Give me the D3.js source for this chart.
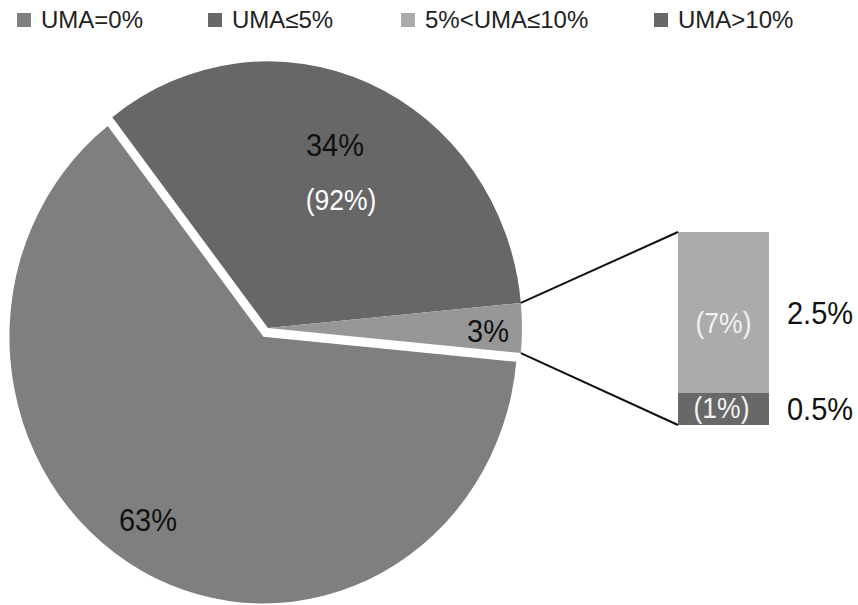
<!DOCTYPE html>
<html>
<head>
<meta charset="utf-8">
<script src="https://cdn.jsdelivr.net/npm/d3@7/dist/d3.min.js"></script>
<style>
  html, body { margin: 0; padding: 0; background: #fff; }
  svg { display: block; }
  text { font-family: "Liberation Sans", Arial, sans-serif; }
</style>
</head>
<body>
<svg id="chart" width="858" height="605"></svg>
<script>
// Legend categories and their fills
const categories = ["UMA=0%", "UMA≤5%", "5%<UMA≤10%", "UMA>10%"];
const categoryColors = ["#7f7f7f", "#676767", "#ababab", "#686868"];

// Main pie: share of all cases (%), drawn clockwise from the top-left
const pieKeys = ["UMA≤5%", "other", "UMA=0%"];
const pieValues = [34, 3, 63];
const pieLabels = ["34%", "3%", "63%"];
const pieColors = ["#676767", "#979797", "#7f7f7f"];

// Share among cases with UMA > 0
const subShareLabels = ["(92%)", "(7%)", "(1%)"];

// Breakdown of the small slice into a stacked bar
const barKeys = ["5%<UMA≤10%", "UMA>10%"];
const barValues = [2.5, 0.5];
const barLabels = ["2.5%", "0.5%"];
const barColors = ["#ababab", "#686868"];

const svg = d3.select("#chart");

// ---- Legend ----
const legendX = [17, 208, 401, 654];
const legend = svg.append("g");
categories.forEach((c, i) => {
  legend.append("rect")
    .attr("x", legendX[i]).attr("y", 13)
    .attr("width", 14).attr("height", 14)
    .attr("fill", categoryColors[i]);
  legend.append("text")
    .attr("x", legendX[i] + 24).attr("y", 28)
    .attr("font-size", 24).attr("fill", "#222")
    .text(c);
});

// ---- Pie ----
const cx = 268, cy = 328, r = 254, yStretch = 1.05, explode = 9.5;
const total = d3.sum(pieValues);
// keep the small slice centred on the horizontal axis (pointing right)
const start = Math.PI / 2 - 2 * Math.PI * (pieValues[0] + pieValues[1] / 2) / total;
const pie = d3.pie().sort(null).value(d => d)
  .startAngle(start).endAngle(start + 2 * Math.PI);
const arcs = pie(pieValues);
const arc = d3.arc().innerRadius(0).outerRadius(r);

const pieG = svg.append("g")
  .attr("transform", `translate(${cx},${cy}) scale(1,${yStretch})`);

pieG.selectAll("path").data(arcs).join("path")
  .attr("d", arc)
  .attr("fill", (d, i) => pieColors[i])
  .attr("transform", (d, i) => {
    if (pieKeys[i] !== "UMA=0%") return null;
    const mid = (d.startAngle + d.endAngle) / 2;
    return `translate(${Math.sin(mid) * explode},${-Math.cos(mid) * explode})`;
  });

// screen position of a point on the pie rim
const rim = a => [cx + r * Math.sin(a), cy - r * Math.cos(a) * yStretch];

// ---- Stacked bar for the small slice ----
const barX = 678, barW = 91;
const y = d3.scaleLinear().domain([0, d3.sum(barValues)]).range([425, 232]);
const stacked = [];
let acc = 0;
for (let i = barValues.length - 1; i >= 0; i--) {
  stacked[i] = [acc, acc + barValues[i]];
  acc += barValues[i];
}
svg.append("g").selectAll("rect").data(stacked).join("rect")
  .attr("x", barX).attr("width", barW)
  .attr("y", d => y(d[1]))
  .attr("height", d => y(d[0]) - y(d[1]))
  .attr("fill", (d, i) => barColors[i]);

// connector lines from the small slice to the bar
const small = arcs[1];
const pTop = rim(small.startAngle), pBot = rim(small.endAngle);
svg.append("line")
  .attr("x1", pTop[0]).attr("y1", pTop[1])
  .attr("x2", barX).attr("y2", y(d3.sum(barValues)))
  .attr("stroke", "#111").attr("stroke-width", 2);
svg.append("line")
  .attr("x1", pBot[0]).attr("y1", pBot[1])
  .attr("x2", barX).attr("y2", y(0))
  .attr("stroke", "#111").attr("stroke-width", 2);

// ---- Labels (slightly tall glyphs) ----
const big = 29, small2 = 26.5, tall = 1.08;
const labels = svg.append("g").attr("text-anchor", "middle");
function label(x, yb, size, fill, txt, anchor) {
  labels.append("text")
    .attr("transform", `translate(${x},${yb}) scale(1,${tall})`)
    .attr("font-size", size).attr("fill", fill)
    .attr("text-anchor", anchor || "middle")
    .text(txt);
}
label(335, 156, big, "#111", pieLabels[0]);
label(341, 210, small2, "#fff", subShareLabels[0]);
label(488, 342, big, "#111", pieLabels[1]);
label(148, 531, big, "#111", pieLabels[2]);

// shares inside the bar
label(barX + barW / 2, 333, small2, "#f2f2f2", subShareLabels[1]);
label(barX + barW / 2 - 2, 418, small2, "#f2f2f2", subShareLabels[2]);

// values to the right of the bar
stacked.forEach((d, i) => {
  const mid = (y(d[0]) + y(d[1])) / 2;
  label(787, mid + 11.5, big, "#111", barLabels[i], "start");
});
</script>
</body>
</html>
